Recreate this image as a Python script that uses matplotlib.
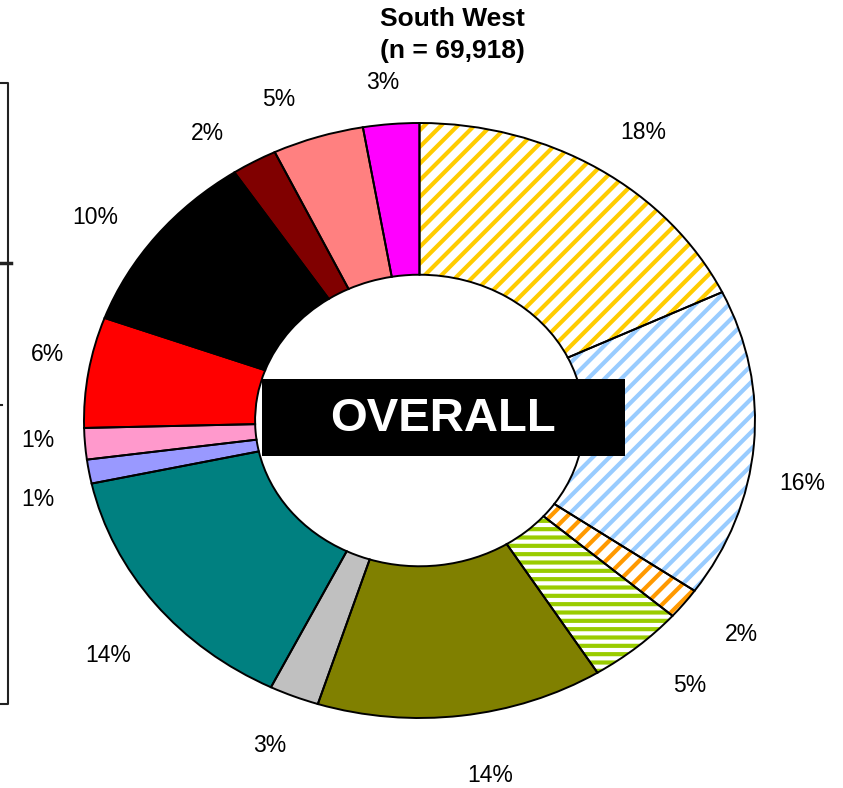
import matplotlib
matplotlib.use("Agg")
import matplotlib.pyplot as plt
from matplotlib.patches import Rectangle
from matplotlib.lines import Line2D
import numpy as np

plt.rcParams['font.family'] = ['Liberation Sans', 'DejaVu Sans']
plt.rcParams['hatch.linewidth'] = 3.0

# shares (clockwise from 12 o'clock)
shares = [17.9, 16.8, 1.7, 4.7, 13.8, 2.4, 14.3, 1.3, 1.7, 6.0, 10.1, 2.2, 4.4, 2.7]
pct_labels = ['18%', '16%', '2%', '5%', '14%', '3%', '14%', '1%', '1%', '6%',
              '10%', '2%', '5%', '3%']
colors = ['#FFCC00', '#99CCFF', '#FF9900', '#99CC00', '#808000', '#C0C0C0',
          '#008080', '#9999FF', '#FF99CC', '#FF0000', '#000000', '#800000',
          '#FF8080', '#FF00FF']
hatches = ['//', '//', '//', '--', None, None, None, None, None, None,
           None, None, None, None]

# label layout: distance from centre (in radii) and clockwise nudge (deg)
label_r = [1.175, 1.16, 1.20, 1.20, 1.21, 1.18, 1.22, 1.167, 1.14, 1.13,
           1.183, 1.155, 1.156, 1.143]
label_nudge = [2.4, 5.9, -1.1, -1.6, -2.8, 0.2, -2.4, -3.2, 1.2, 2.0,
               -3.2, -3.7, -3.6, -0.6]

W, H = 843, 788
cx, cy = 419.5, 420.5   # ring centre in pixels (from top)
rx, ry = 335.5, 297.5   # outer radii in pixels

fig = plt.figure(figsize=(W / 100, H / 100), dpi=100)
ax = fig.add_axes([0, 0, 1, 1])

# fill pass
w1, _ = ax.pie(shares, startangle=90, counterclock=False, radius=1,
               wedgeprops=dict(width=0.51, linewidth=0))
for w, c, h in zip(w1, colors, hatches):
    if h:
        w.set_facecolor('white')
        w.set_edgecolor(c)
        w.set_hatch(h)
        w.set_linewidth(0)
    else:
        w.set_facecolor(c)

# outline pass
w2, _ = ax.pie(shares, startangle=90, counterclock=False, radius=1,
               wedgeprops=dict(width=0.51, fill=False, edgecolor='black',
                               linewidth=1.4))

ax.set_aspect('auto')
ax.set_xlim(-cx / rx, (W - cx) / rx)
ax.set_ylim((cy - H) / ry, cy / ry)
ax.axis('off')

# percentage labels outside the ring
for w, lab, r, dn in zip(w2, pct_labels, label_r, label_nudge):
    mid = np.deg2rad((w.theta1 + w.theta2) / 2 - dn)
    ax.text(r * np.cos(mid), r * np.sin(mid), lab, ha='center', va='center',
            fontsize=16.5)

# title
fig.text(452 / W, 1 - 19 / H, 'South West', ha='center', va='center',
         fontsize=19, fontweight='bold')
fig.text(452 / W, 1 - 51 / H, '(n = 69,918)', ha='center', va='center',
         fontsize=19, fontweight='bold')

# OVERALL box
fig.add_artist(Rectangle((262 / W, 1 - 456 / H), 363 / W, 77 / H,
                         transform=fig.transFigure, facecolor='black',
                         edgecolor='none', zorder=5))
fig.text(443.5 / W, 1 - 419 / H, 'OVERALL', ha='center', va='center',
         fontsize=34, fontweight='bold', color='white', zorder=6)

# remnant of neighbouring chart frame on the left
def px_line(xs, ys, lw=1.5):
    fig.add_artist(Line2D([x / W for x in xs], [1 - y / H for y in ys],
                          transform=fig.transFigure, color='#222222',
                          linewidth=lw))

px_line([0, 7.5, 7.5, 0], [83, 83, 704, 704])
px_line([0, 11], [263, 263], lw=2.5)
px_line([0, 2], [405, 405])

fig.savefig('out.png', dpi=100)
